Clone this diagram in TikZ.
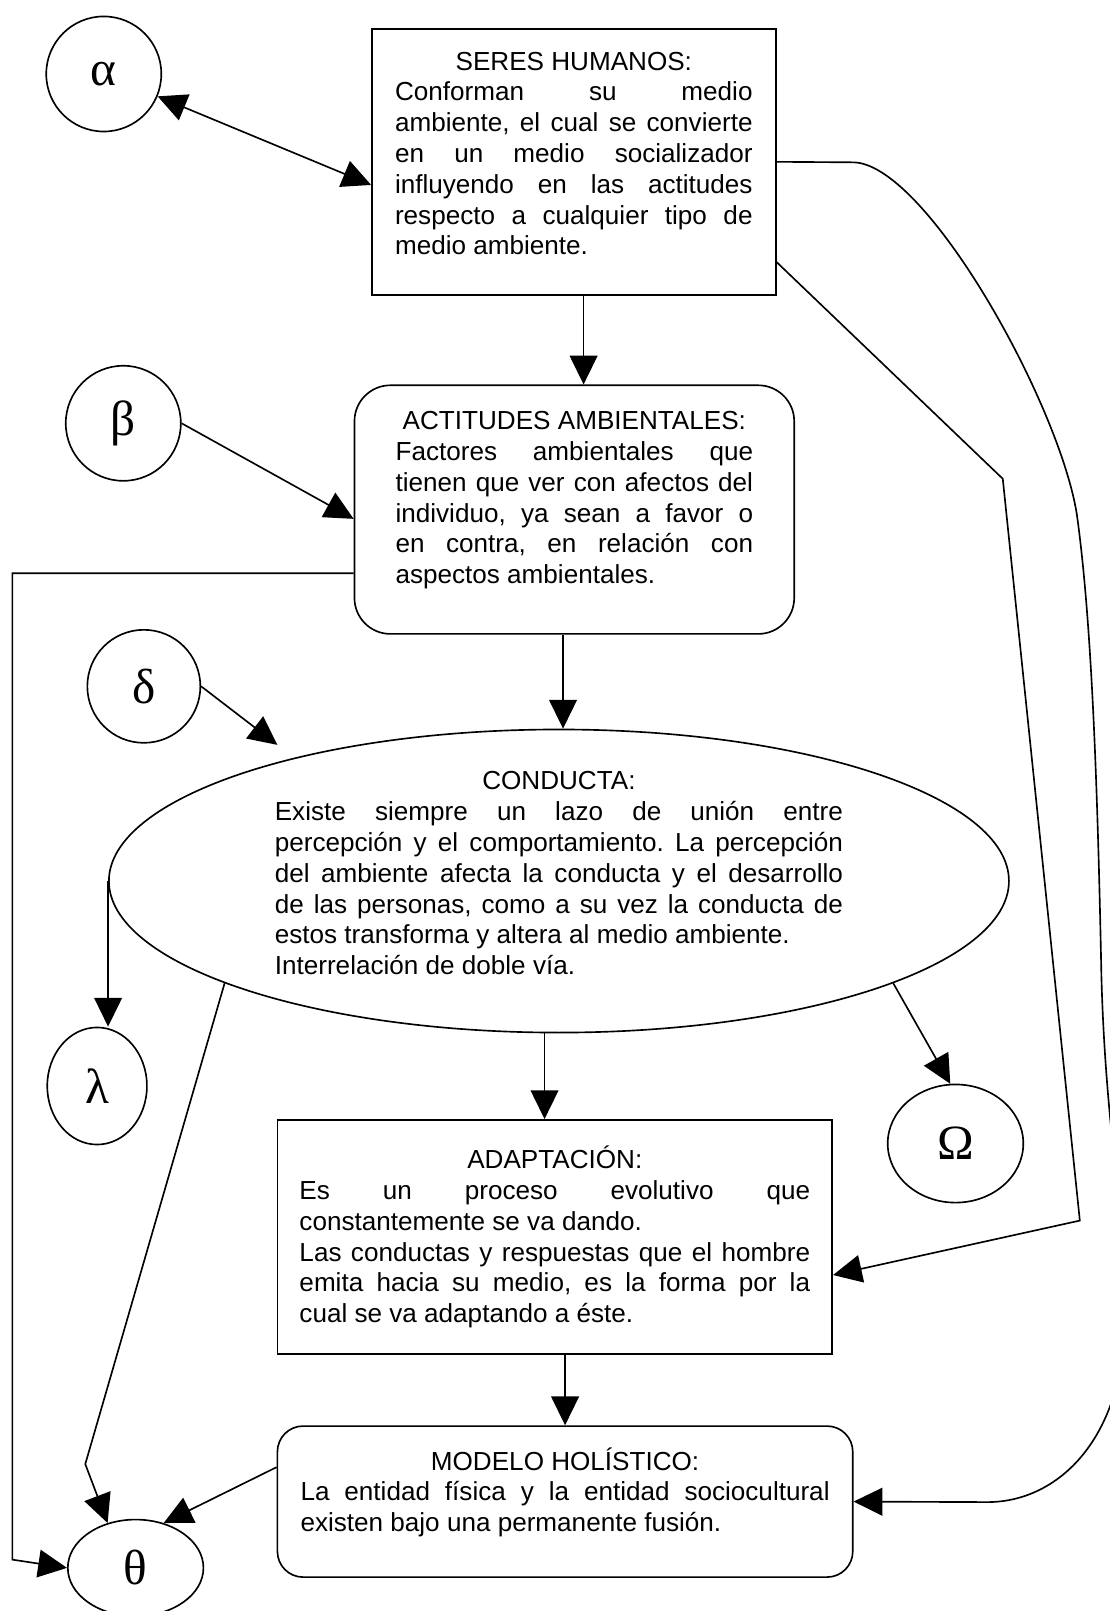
\documentclass[tikz,border=0pt]{standalone}
\usepackage{fontspec}
\setmainfont{Liberation Sans}
\newfontfamily\griego{Liberation Serif}
\usetikzlibrary{arrows.meta}
\usetikzlibrary{shapes.geometric}
\tolerance=10000
\hbadness=10000
\frenchspacing

\begin{document}
\begin{tikzpicture}[x=0.5pt,y=-0.5pt,line width=0.8pt,
  >={Triangle[length=14pt,width=13.5pt]},
  every node/.style={font=\fontsize{12.7}{15}\selectfont},
  caja/.style={draw,align=justify,inner sep=0pt},
  circulo/.style={draw,ellipse,inner sep=0pt,font=\griego\fontsize{24}{24}\selectfont}]
\useasboundingbox (0,0) rectangle (1080,1568);

\node[caja,minimum width=196.5pt,minimum height=129.5pt,text width=174pt] (seres) at (558.5,157.5)
 {\hfill SERES HUMANOS:\hfill\null\linebreak
  Conforman su medio\linebreak
  ambiente, el cual se convierte\linebreak
  en un medio socializador\linebreak
  influyendo en las actitudes\linebreak
  respecto a cualquier tipo de\linebreak
  medio ambiente.\rule[-8.2pt]{0pt}{0pt}};
\node[caja,rounded corners=17.5pt,minimum width=214pt,minimum height=121pt,text width=174pt] (act) at (559,496)
 {\hfill ACTITUDES AMBIENTALES:\hfill\null\linebreak
  Factores ambientales que\linebreak
  tienen que ver con afectos del\linebreak
  individuo, ya sean a favor o\linebreak
  en contra, en relación con\linebreak
  aspectos ambientales.\rule[-11.7pt]{0pt}{0pt}};
\node[caja,ellipse,inner ysep=-2pt,minimum width=438pt,minimum height=147.5pt,text width=276.5pt] (conducta) at (544,857.5)
 {\hfill CONDUCTA:\hfill\null\linebreak
  Existe siempre un lazo de unión entre\linebreak
  percepción y el comportamiento. La percepción\linebreak
  del ambiente afecta la conducta y el desarrollo\linebreak
  de las personas, como a su vez la conducta de\linebreak
  estos transforma y altera al medio ambiente.\newline
  Interrelación de doble vía.\rule[-7.7pt]{0pt}{0pt}};
\node[caja,minimum width=270pt,minimum height=114pt,text width=248.5pt] (adapt) at (540,1204)
 {\hfill ADAPTACIÓN:\hfill\null\linebreak
  Es un proceso evolutivo que\linebreak
  constantemente se va dando.\newline
  Las conductas y respuestas que el hombre\linebreak
  emita hacia su medio, es la forma por la\linebreak
  cual se va adaptando a éste.};
\node[caja,rounded corners=12.5pt,minimum width=280pt,minimum height=73.5pt,text width=257.5pt] (modelo) at (550,1461.5)
 {\hfill MODELO HOLÍSTICO:\hfill\null\linebreak
  La entidad física y la entidad sociocultural\linebreak
  existen bajo una permanente fusión.\rule[-11.7pt]{0pt}{0pt}};

\node[circulo,minimum width=56pt,minimum height=56pt] (alpha) at (101,72) {α};
\node[circulo,minimum width=56pt,minimum height=56pt] (beta) at (120,412) {β};
\node[circulo,minimum width=55pt,minimum height=55pt] (delta) at (140,668) {δ};
\node[circulo,minimum width=48.5pt,minimum height=57pt] (lambda) at (94.5,1057) {λ};
\node[circulo,minimum width=66pt,minimum height=57.5pt] (omega) at (930,1113) {Ω};
\node[circulo,minimum width=66pt,minimum height=47pt] (theta) at (132,1526) {θ};
\coordinate (dpunta) at (270,725);

\draw[<->] (alpha) -- ([yshift=-11.25pt]seres.west);
\draw[->] ([xshift=4.75pt]seres.south) -- ([xshift=4.5pt]act.north);
\draw[->] (beta.east) -- ([yshift=-4.5pt]act.west);
\draw[->] ([xshift=-5.5pt]act.south) -- ([xshift=2pt]conducta.north);
\draw[->] (delta.east) -- (dpunta);
\draw[->] ([yshift=-31pt]act.west) -- (12,558) -- (12,1518) -- (theta.west);
\draw[->] (conducta.west) -- (conducta.west |- lambda.north);
\draw[->] (conducta.197) -- (83,1425) -- (theta.122);
\draw[->] (conducta.343) -- (omega.95);
\draw[->] ([xshift=-7pt]conducta.south) -- ([xshift=-5pt]adapt.north);
\draw[->] ([xshift=5pt]adapt.south) -- (modelo.north);
\draw[->] ([yshift=16.75pt]modelo.west) -- (theta.58);
\draw[->] ([yshift=-48.75pt]seres.east) -- (976,466) -- (1051,1188) -- ([yshift=-18.5pt]adapt.east);
\draw[->] (seres.east) -- (830,158) .. controls (900,158) and (1030,390) .. (1048,500)
  .. controls (1062,600) and (1068,750) .. (1072,950)
  .. controls (1076,1100) and (1095,1180) .. (1095,1280)
  .. controls (1095,1400) and (1030,1462) .. (961,1462) -- (modelo.east);

\end{tikzpicture}
\end{document}
